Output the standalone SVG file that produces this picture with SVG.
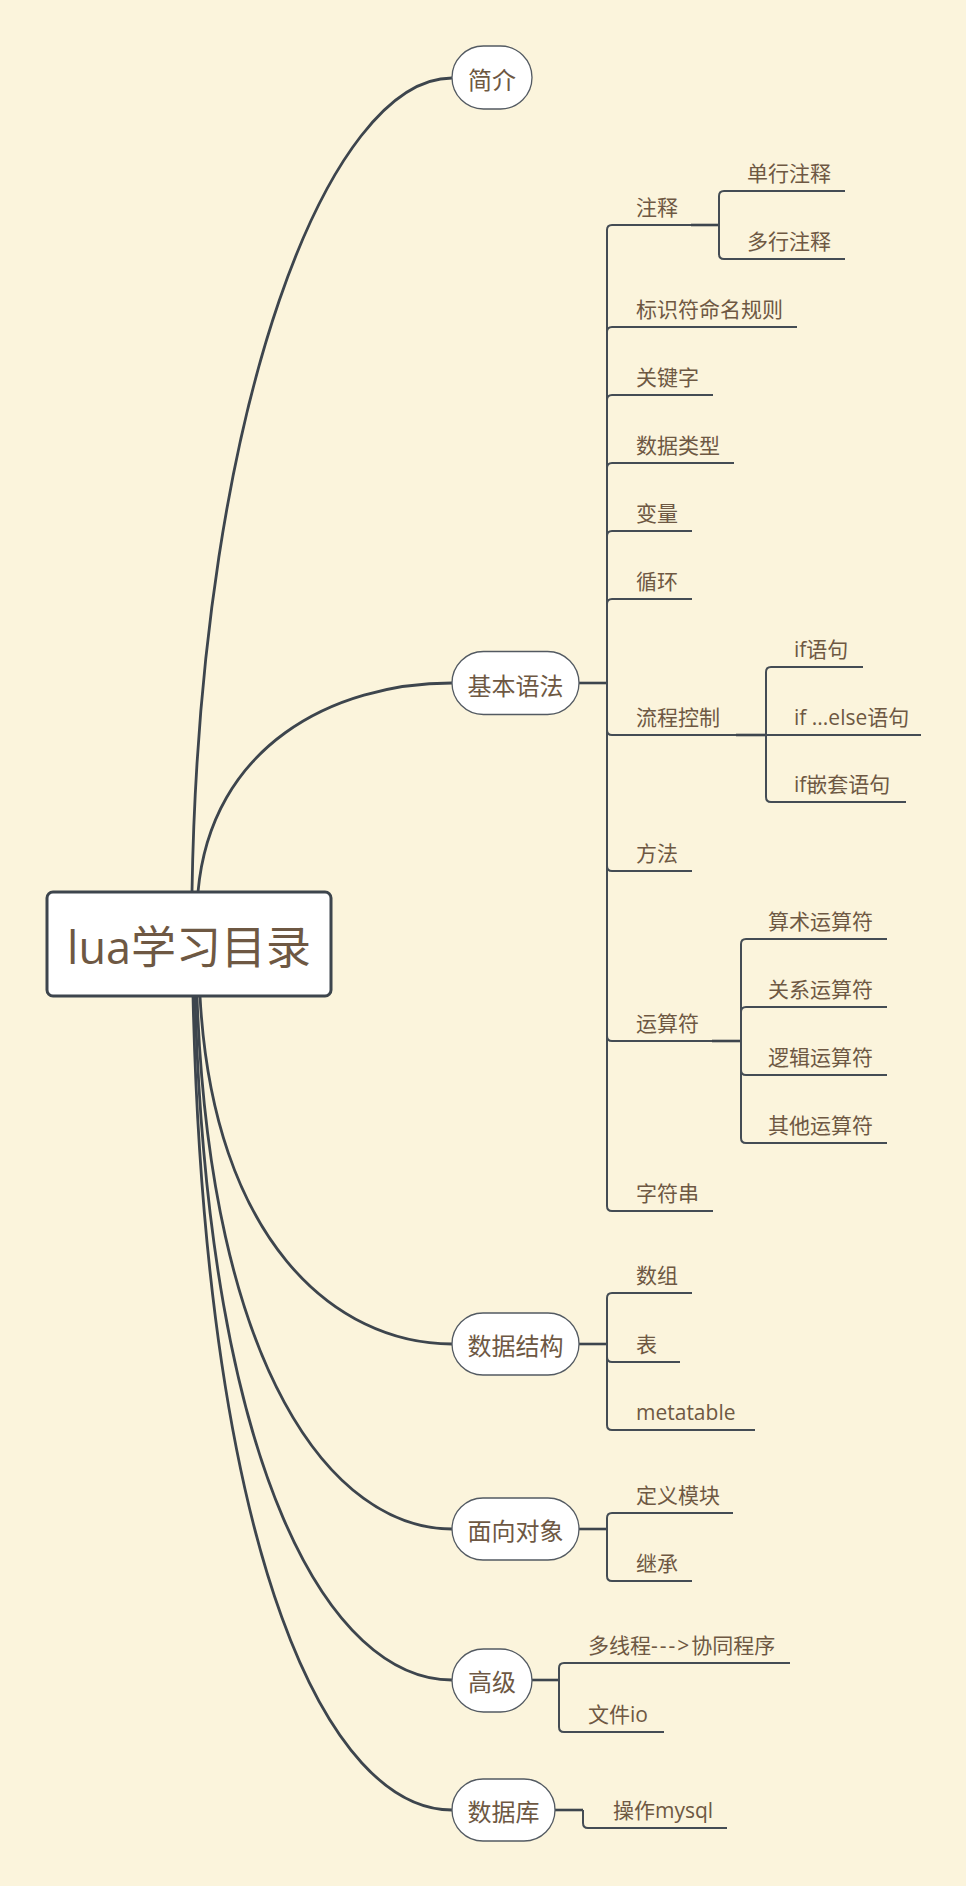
<svg xmlns="http://www.w3.org/2000/svg" width="966" height="1898" viewBox="0 0 966 1898">
<style>
text{font-family:"Open Sans","Noto Sans CJK SC",sans-serif;fill:#6e5843}
.t{font-size:21px}
.tp{font-size:24px;text-anchor:middle}
.topic{fill:#fff;stroke:#535a62;stroke-width:1.3}
.curve{fill:none;stroke:#3d454d;stroke-width:2.8;stroke-linecap:round}
.stem{fill:none;stroke:#3d454d;stroke-width:2.6}
.br{fill:none;stroke:#444c54;stroke-width:2}
.ul{stroke:#444c54;stroke-width:2}
</style>
<rect x="0" y="0" width="966" height="1886" fill="#fbf4dc"/>
<rect x="0" y="1886" width="966" height="12" fill="#ffffff"/>

<g id="connectors">
  <path class="curve" d="M192 892 C200 400 330 78 452 78"/>
  <path class="curve" d="M198 892 C211 746 333 683 452 683"/>
  <path class="curve" d="M200 996 C213 1239 334 1344 452 1344"/>
  <path class="curve" d="M197 996 C210 1369 332 1529 452 1529"/>
  <path class="curve" d="M195 996 C208 1475 331 1680 452 1680"/>
  <path class="curve" d="M193 996 C206 1566 330 1810 452 1810"/>

  <path class="stem" d="M579 683 H607"/>
  <path class="br" d="M607 683 V230 Q607 225 612 225"/>
  <path class="br" d="M607 683 V332 Q607 327 612 327"/>
  <path class="br" d="M607 683 V400 Q607 395 612 395"/>
  <path class="br" d="M607 683 V468 Q607 463 612 463"/>
  <path class="br" d="M607 683 V536 Q607 531 612 531"/>
  <path class="br" d="M607 683 V604 Q607 599 612 599"/>
  <path class="br" d="M607 683 V730 Q607 735 612 735"/>
  <path class="br" d="M607 683 V866 Q607 871 612 871"/>
  <path class="br" d="M607 683 V1036 Q607 1041 612 1041"/>
  <path class="br" d="M607 683 V1206 Q607 1211 612 1211"/>

  <path class="stem" d="M691 225 H719"/>
  <path class="br" d="M719 225 V196 Q719 191 724 191"/>
  <path class="br" d="M719 225 V254 Q719 259 724 259"/>

  <path class="stem" d="M736 735 H766"/>
  <path class="br" d="M766 735 V672 Q766 667 771 667"/>
  <path class="br" d="M766 735 H771"/>
  <path class="br" d="M766 735 V797 Q766 802 771 802"/>

  <path class="stem" d="M712 1041 H741"/>
  <path class="br" d="M741 1041 V944 Q741 939 746 939"/>
  <path class="br" d="M741 1041 V1012 Q741 1007 746 1007"/>
  <path class="br" d="M741 1041 V1070 Q741 1075 746 1075"/>
  <path class="br" d="M741 1041 V1138 Q741 1143 746 1143"/>

  <path class="stem" d="M579 1344 H607"/>
  <path class="br" d="M607 1344 V1298 Q607 1293 612 1293"/>
  <path class="br" d="M607 1344 V1357 Q607 1362 612 1362"/>
  <path class="br" d="M607 1344 V1425 Q607 1430 612 1430"/>

  <path class="stem" d="M579 1529 H607"/>
  <path class="br" d="M607 1529 V1518 Q607 1513 612 1513"/>
  <path class="br" d="M607 1529 V1576 Q607 1581 612 1581"/>

  <path class="stem" d="M532 1680 H559"/>
  <path class="br" d="M559 1680 V1668 Q559 1663 564 1663"/>
  <path class="br" d="M559 1680 V1727 Q559 1732 564 1732"/>

  <path class="stem" d="M555 1810 H583"/>
  <path class="br" d="M583 1810 V1823 Q583 1828 588 1828"/>
</g>

<g id="root">
  <rect x="47" y="892" width="284" height="104" rx="6" fill="#ffffff" stroke="#3d454d" stroke-width="3"/>
  <text x="189" y="964" font-size="45" text-anchor="middle">lua学习目录</text>
</g>

<g id="n-jianjie"><rect class="topic" x="452" y="46" width="80" height="63" rx="31.5"/><text class="tp" x="492" y="89">简介</text></g>
<g id="n-jiben"><rect class="topic" x="452" y="651.5" width="127" height="63" rx="31.5"/><text class="tp" x="515.5" y="694.5">基本语法</text></g>
<g id="n-shujujiegou"><rect class="topic" x="452" y="1313" width="127" height="62" rx="31"/><text class="tp" x="515.5" y="1355">数据结构</text></g>
<g id="n-mianxiang"><rect class="topic" x="452" y="1498" width="127" height="62" rx="31"/><text class="tp" x="515.5" y="1540">面向对象</text></g>
<g id="n-gaoji"><rect class="topic" x="452" y="1649" width="80" height="63" rx="31.5"/><text class="tp" x="492" y="1691">高级</text></g>
<g id="n-shujuku"><rect class="topic" x="452" y="1779" width="103" height="62" rx="31"/><text class="tp" x="503.5" y="1821">数据库</text></g>

<g id="n-zhushi"><line class="ul" x1="612" y1="225" x2="691" y2="225"/><text class="t" x="636" y="215">注释</text></g>
<g id="n-danhang"><line class="ul" x1="724" y1="191" x2="845" y2="191"/><text class="t" x="747" y="181">单行注释</text></g>
<g id="n-duohang"><line class="ul" x1="724" y1="259" x2="845" y2="259"/><text class="t" x="747" y="249">多行注释</text></g>
<g id="n-biaoshifu"><line class="ul" x1="612" y1="327" x2="797" y2="327"/><text class="t" x="636" y="317">标识符命名规则</text></g>
<g id="n-guanjianzi"><line class="ul" x1="612" y1="395" x2="713" y2="395"/><text class="t" x="636" y="385">关键字</text></g>
<g id="n-shujuleixing"><line class="ul" x1="612" y1="463" x2="734" y2="463"/><text class="t" x="636" y="453">数据类型</text></g>
<g id="n-bianliang"><line class="ul" x1="612" y1="531" x2="692" y2="531"/><text class="t" x="636" y="521">变量</text></g>
<g id="n-xunhuan"><line class="ul" x1="612" y1="599" x2="692" y2="599"/><text class="t" x="636" y="589">循环</text></g>
<g id="n-liucheng"><line class="ul" x1="612" y1="735" x2="736" y2="735"/><text class="t" x="636" y="725">流程控制</text></g>
<g id="n-if"><line class="ul" x1="771" y1="667" x2="863" y2="667"/><text class="t" x="794" y="657">if语句</text></g>
<g id="n-ifelse"><line class="ul" x1="771" y1="735" x2="921" y2="735"/><text class="t" x="794" y="725">if ...else语句</text></g>
<g id="n-ifnest"><line class="ul" x1="771" y1="802" x2="906" y2="802"/><text class="t" x="794" y="792">if嵌套语句</text></g>
<g id="n-fangfa"><line class="ul" x1="612" y1="871" x2="692" y2="871"/><text class="t" x="636" y="861">方法</text></g>
<g id="n-yunsuanfu"><line class="ul" x1="612" y1="1041" x2="712" y2="1041"/><text class="t" x="636" y="1031">运算符</text></g>
<g id="n-suanshu"><line class="ul" x1="746" y1="939" x2="887" y2="939"/><text class="t" x="768" y="929">算术运算符</text></g>
<g id="n-guanxi"><line class="ul" x1="746" y1="1007" x2="887" y2="1007"/><text class="t" x="768" y="997">关系运算符</text></g>
<g id="n-luoji"><line class="ul" x1="746" y1="1075" x2="887" y2="1075"/><text class="t" x="768" y="1065">逻辑运算符</text></g>
<g id="n-qita"><line class="ul" x1="746" y1="1143" x2="887" y2="1143"/><text class="t" x="768" y="1133">其他运算符</text></g>
<g id="n-zifuchuan"><line class="ul" x1="612" y1="1211" x2="713" y2="1211"/><text class="t" x="636" y="1201">字符串</text></g>

<g id="n-shuzu"><line class="ul" x1="612" y1="1293" x2="692" y2="1293"/><text class="t" x="636" y="1283">数组</text></g>
<g id="n-biao"><line class="ul" x1="612" y1="1362" x2="680" y2="1362"/><text class="t" x="636" y="1352">表</text></g>
<g id="n-metatable"><line class="ul" x1="612" y1="1430" x2="755" y2="1430"/><text class="t" x="636" y="1420">metatable</text></g>

<g id="n-dingyi"><line class="ul" x1="612" y1="1513" x2="733" y2="1513"/><text class="t" x="636" y="1503">定义模块</text></g>
<g id="n-jicheng"><line class="ul" x1="612" y1="1581" x2="692" y2="1581"/><text class="t" x="636" y="1571">继承</text></g>

<g id="n-duoxiancheng"><line class="ul" x1="564" y1="1663" x2="790" y2="1663"/><text class="t" x="588" y="1653">多线程<tspan letter-spacing="2">---&gt;</tspan>协同程序</text></g>
<g id="n-wenjian"><line class="ul" x1="564" y1="1732" x2="664" y2="1732"/><text class="t" x="588" y="1722">文件io</text></g>

<g id="n-mysql"><line class="ul" x1="588" y1="1828" x2="727" y2="1828"/><text class="t" x="613" y="1818">操作mysql</text></g>
</svg>
